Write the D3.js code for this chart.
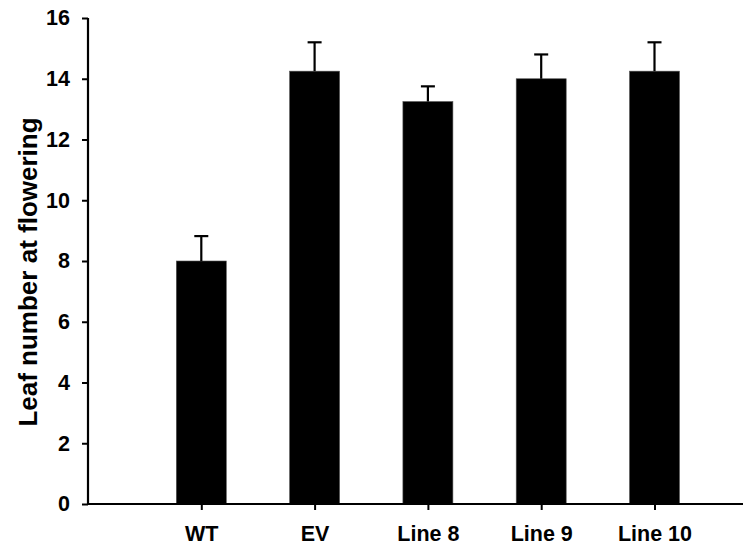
<!DOCTYPE html>
<html>
<head>
<meta charset="utf-8">
<script src="https://cdn.jsdelivr.net/npm/d3@7"></script>
<style>
  html, body { margin: 0; padding: 0; background: #fff; }
  svg text { font-family: "Liberation Sans", Arial, sans-serif; font-weight: bold; fill: #000; }
</style>
</head>
<body>
<svg id="chart" width="743" height="550"></svg>
<script>
const categories = ["", "WT", "EV", "Line 8", "Line 9", "Line 10"];
const values = [null, 8.0, 14.25, 13.25, 14.0, 14.25];
const errors = [null, 0.82, 0.95, 0.5, 0.8, 0.95];
const yTicks = [0, 2, 4, 6, 8, 10, 12, 14, 16];
const yLabel = "Leaf number at flowering";

(function () {
const svg = d3.select("#chart");
const mLeft = 88, mRight = 743, mTop = 18, mBottom = 504;
const step = 113.3;

const x = d3.scalePoint().domain(categories).range([mLeft, mLeft + step * 5]);
const y = d3.scaleLinear().domain([0, 16]).range([mBottom, mTop]);
const barW = 50;

const data = categories.map((c, i) => ({ c, v: values[i], e: errors[i] })).filter(d => d.v !== null);

// bars
svg.append("g").selectAll("rect").data(data).join("rect")
  .attr("x", d => x(d.c) - barW / 2)
  .attr("y", d => y(d.v))
  .attr("width", barW)
  .attr("height", d => y(0) - y(d.v))
  .attr("fill", "#000")
  .attr("stroke", "#555")
  .attr("stroke-width", 0.6);

// error bars
const eg = svg.append("g").attr("stroke", "#000").attr("stroke-width", 2.2);
eg.selectAll("line.v").data(data).join("line").attr("class", "v")
  .attr("x1", d => x(d.c)).attr("x2", d => x(d.c))
  .attr("y1", d => y(d.v)).attr("y2", d => y(d.v + d.e));
eg.selectAll("line.cap").data(data).join("line").attr("class", "cap")
  .attr("x1", d => x(d.c) - 7).attr("x2", d => x(d.c) + 7)
  .attr("y1", d => y(d.v + d.e)).attr("y2", d => y(d.v + d.e));

// y axis
const yAxis = svg.append("g").attr("transform", `translate(${mLeft},0)`)
  .call(d3.axisLeft(y).tickValues(yTicks).tickSize(6).tickPadding(12).tickFormat(d3.format("d")));
yAxis.select(".domain").attr("d", `M0,${mTop}H0V${mBottom}`).attr("stroke-width", 2.2);
yAxis.selectAll(".tick line").attr("stroke-width", 2);
yAxis.selectAll("text").style("font-size", "21.5px");

// x axis
const xAxis = svg.append("g").attr("transform", `translate(0,${mBottom})`)
  .call(d3.axisBottom(x).tickValues(categories.slice(1)).tickSize(6).tickPadding(16));
xAxis.select(".domain").attr("d", `M${mLeft},0H${mRight}`).attr("stroke-width", 2.2);
xAxis.selectAll(".tick line").attr("stroke-width", 2);
xAxis.selectAll("text").style("font-size", "21.5px");

// y label
svg.append("text")
  .attr("transform", `translate(37,272) rotate(-90)`)
  .attr("text-anchor", "middle")
  .style("font-size", "26px")
  .text(yLabel);
})();
</script>
</body>
</html>
